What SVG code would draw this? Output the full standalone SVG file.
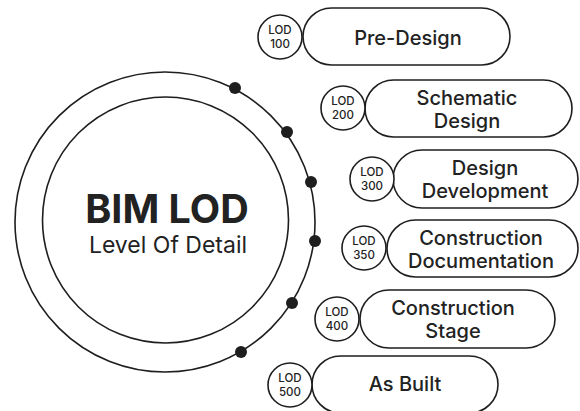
<svg xmlns="http://www.w3.org/2000/svg" width="580" height="411" viewBox="0 0 580 411">
<style>
.ln{fill:none;stroke:#1e1e1e;stroke-width:1.6}
.pill{fill:#fff;stroke:#1e1e1e;stroke-width:1.6}
.dot{fill:#1e1e1e}
.lod{font-family:Inter,"Liberation Sans",sans-serif;font-size:11.5px;font-weight:500;fill:#222;text-anchor:middle}
.lbl{font-family:Inter,"Liberation Sans",sans-serif;font-size:20px;font-weight:500;fill:#222;text-anchor:middle}
</style>
<rect width="580" height="411" fill="#fff"/>
<g id="center">
<circle class="ln" cx="165" cy="222" r="150"/>
<circle class="ln" cx="165.5" cy="220" r="123"/>
<text x="167" y="223" font-family="Inter,'Liberation Sans',sans-serif" font-size="39.5" font-weight="700" fill="#222" text-anchor="middle">BIM LOD</text>
<text x="168" y="253" font-family="Inter,'Liberation Sans',sans-serif" font-size="23" font-weight="400" fill="#222" text-anchor="middle">Level Of Detail</text>
</g>
<g id="connectors">
<circle class="dot" cx="235" cy="88" r="6"/>
<circle class="dot" cx="287" cy="132" r="6"/>
<circle class="dot" cx="311" cy="182" r="6"/>
<circle class="dot" cx="315" cy="241" r="6"/>
<circle class="dot" cx="292" cy="303" r="6"/>
<circle class="dot" cx="241" cy="352" r="6"/>
</g>
<g id="lod100">
<rect class="pill" x="303" y="8" width="207" height="57" rx="28.5"/>
<circle class="pill" cx="280" cy="37" r="22"/>
<text class="lod" x="280" y="34">LOD</text><text class="lod" x="280" y="48">100</text>
<text class="lbl" x="408" y="45">Pre-Design</text>
</g>
<g id="lod200">
<rect class="pill" x="365" y="80" width="207" height="57" rx="28.5"/>
<circle class="pill" cx="343" cy="108" r="22"/>
<text class="lod" x="343" y="105">LOD</text><text class="lod" x="343" y="119">200</text>
<text class="lbl" x="467" y="105">Schematic</text><text class="lbl" x="467" y="128">Design</text>
</g>
<g id="lod300">
<rect class="pill" x="393" y="150" width="185" height="58" rx="29"/>
<circle class="pill" cx="372" cy="179" r="22"/>
<text class="lod" x="372" y="176">LOD</text><text class="lod" x="372" y="190">300</text>
<text class="lbl" x="485" y="175">Design</text><text class="lbl" x="485" y="198">Development</text>
</g>
<g id="lod350">
<rect class="pill" x="387" y="220" width="191" height="57" rx="28.5"/>
<circle class="pill" cx="364" cy="248" r="22"/>
<text class="lod" x="364" y="245">LOD</text><text class="lod" x="364" y="259">350</text>
<text class="lbl" x="481" y="245">Construction</text><text class="lbl" x="481" y="268">Documentation</text>
</g>
<g id="lod400">
<rect class="pill" x="360" y="290" width="195" height="58" rx="29"/>
<circle class="pill" cx="337" cy="319" r="22"/>
<text class="lod" x="337" y="316">LOD</text><text class="lod" x="337" y="330">400</text>
<text class="lbl" x="453" y="315">Construction</text><text class="lbl" x="453" y="338">Stage</text>
</g>
<g id="lod500">
<rect class="pill" x="312" y="356" width="186" height="57" rx="28.5"/>
<circle class="pill" cx="290" cy="385" r="22"/>
<text class="lod" x="290" y="382">LOD</text><text class="lod" x="290" y="396">500</text>
<text class="lbl" x="405" y="391">As Built</text>
</g>
</svg>
